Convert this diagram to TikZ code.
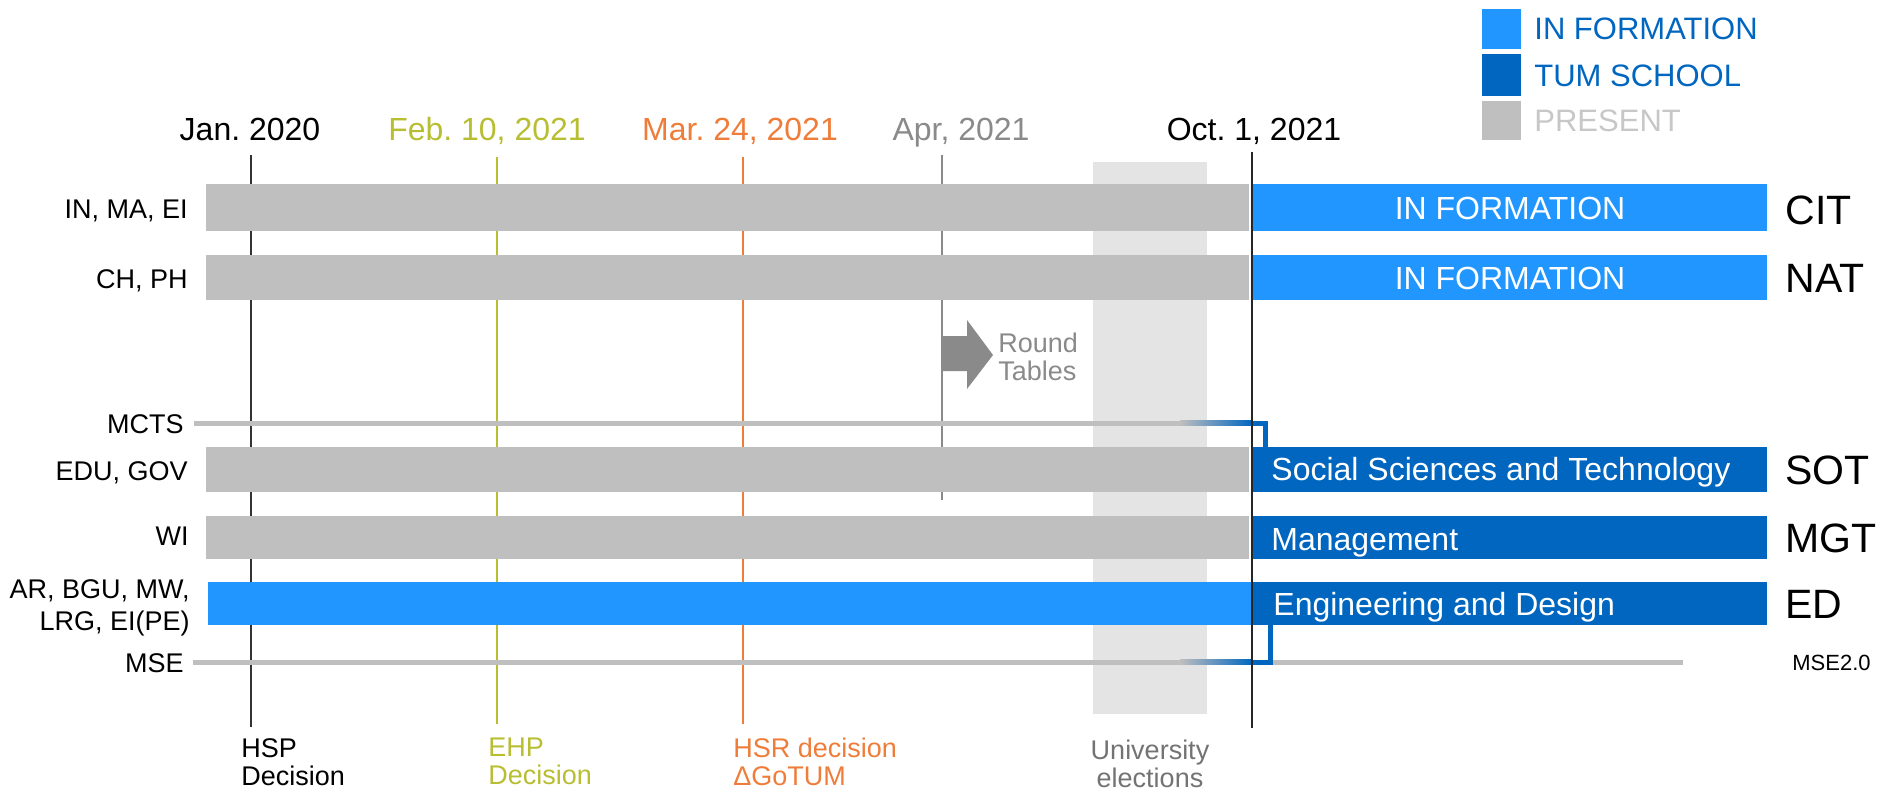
\documentclass[tikz,border=0pt]{standalone}
\usepackage{fontspec}
\setmainfont{Liberation Sans}
\frenchspacing
\definecolor{formblue}{RGB}{33,150,255}
\definecolor{schoolblue}{RGB}{0,102,191}
\definecolor{presgray}{RGB}{191,191,191}
\definecolor{bandgray}{RGB}{228,228,228}
\definecolor{febgreen}{RGB}{184,190,50}
\definecolor{marorange}{RGB}{239,125,58}
\definecolor{aprgray}{RGB}{138,138,138}

\begin{document}
\begin{tikzpicture}[x=0.5pt, y=-0.5pt,
	txt/.style={inner sep=0pt, font=\fontsize{13.5}{14}\selectfont},
	datelbl/.style={inner sep=0pt, anchor=base, font=\fontsize{16}{18}\selectfont},
	schoollbl/.style={inner sep=0pt, anchor=base west, font=\fontsize{20.5}{22}\selectfont},
	bartxt/.style={inner sep=0pt, text=white, font=\fontsize{16}{18}\selectfont},
	legendtxt/.style={inner sep=0pt, anchor=base west, font=\fontsize{15.5}{17}\selectfont},
	timeline/.style={line width=1pt},
	track/.style={line width=2.5pt, presgray},
	link/.style={line width=2.5pt, schoolblue, line join=miter}]
	\useasboundingbox (0,0) rectangle (1887,799);
	\fill[bandgray] (1093,162) rectangle (1207,714);
	\draw[timeline, black!80] (251,155) -- (251,727);
	\draw[timeline, febgreen] (497,157) -- (497,724);
	\draw[timeline, marorange] (743,157) -- (743,724);
	\draw[timeline, aprgray] (942,155) -- (942,500);
	\foreach \ya/\yb/\col in {184/231/formblue, 255/300/formblue, 447/492/schoolblue, 516/559/schoolblue} {
		\fill[presgray] (206,\ya) rectangle (1249,\yb);
		\fill[\col] (1253,\ya) rectangle (1767,\yb);
	}
	\fill[formblue] (208,582) rectangle (1253,625);
	\fill[schoolblue] (1253,582) rectangle (1767,625);
	\draw[track] (194,423) -- (1250,423);
	\draw[track] (193,662) -- (1683,662);
	\shade[left color=presgray, right color=schoolblue] (1180,420.5) rectangle (1252,425.5);
	\shade[left color=presgray, right color=schoolblue] (1180,659.5) rectangle (1252,664.5);
	\coordinate (mcts fade) at (1250,423);
	\coordinate (sot top) at (1265,448);
	\coordinate (mse fade) at (1250,662);
	\coordinate (ed bottom) at (1270,624);
	\draw[link] (mcts fade) -| (sot top);
	\draw[link] (mse fade) -| (ed bottom);
	\draw[timeline, black!85] (1252,152) -- (1252,728);
	\fill[aprgray] (943,336) -- (967,336) -- (967,320) -- (993,355) -- (967,389) -- (967,371) -- (943,371) -- cycle;
	\node[txt, anchor=north west, align=left, text=aprgray] (round) at (998,333) {Round\\Tables};

	\node[datelbl] (jan) at (250,140) {Jan. 2020};
	\node[datelbl, text=febgreen] (feb) at (487,140) {Feb. 10, 2021};
	\node[datelbl, text=marorange] (mar) at (740,140) {Mar. 24, 2021};
	\node[datelbl, text=aprgray] (apr) at (961,140) {Apr, 2021};
	\node[datelbl] (oct) at (1254,140) {Oct. 1, 2021};

	\node[txt, anchor=base east] (inmaei) at (188,218) {IN, MA, EI};
	\node[txt, anchor=base east] (chph) at (188,288) {CH, PH};
	\node[txt, anchor=base east] (mcts) at (184,433) {MCTS};
	\node[txt, anchor=base east] (edugov) at (188,480) {EDU, GOV};
	\node[txt, anchor=base east] (wi) at (189,545) {WI};
	\node[txt, anchor=base east] (arbgu) at (190,598) {AR, BGU, MW,};
	\node[txt, anchor=base east] (lrg) at (190,630) {LRG, EI(PE)};
	\node[txt, anchor=base east] (mse) at (184,672) {MSE};

	\node[bartxt, anchor=base] (citform) at (1510,219) {IN FORMATION};
	\node[bartxt, anchor=base] (natform) at (1510,289) {IN FORMATION};
	\node[bartxt, anchor=base west] (sottxt) at (1271,480) {Social Sciences and Technology};
	\node[bartxt, anchor=base west] (mgttxt) at (1271,550) {Management};
	\node[bartxt, anchor=base west] (edtxt) at (1273,615) {Engineering and Design};

	\node[schoollbl] (cit) at (1785,224) {CIT};
	\node[schoollbl] (nat) at (1785,292) {NAT};
	\node[schoollbl] (sot) at (1785,484) {SOT};
	\node[schoollbl] (mgt) at (1785,552) {MGT};
	\node[schoollbl] (ed) at (1785,618) {ED};
	\node[inner sep=0pt, anchor=base west, font=\fontsize{11}{12}\selectfont] (mse2) at (1792,670) {MSE2.0};

	\node[txt, anchor=north west, align=left] (hsp) at (241,738) {HSP\\Decision};
	\node[txt, anchor=north west, align=left, text=febgreen] (ehp) at (488,738) {EHP\\Decision};
	\node[txt, anchor=north west, align=left, text=marorange] (hsr) at (733,738) {HSR decision\\ΔGoTUM};
	\node[txt, anchor=north, align=center, text=black!55] (elect) at (1150,740) {University\\elections};

	\fill[formblue] (1482,9) rectangle (1521,49);
	\fill[schoolblue] (1482,54) rectangle (1521,96);
	\fill[presgray] (1482,101) rectangle (1521,140);
	\node[legendtxt, text=schoolblue] (leg form) at (1534,39) {IN FORMATION};
	\node[legendtxt, text=schoolblue] (leg school) at (1534,86) {TUM SCHOOL};
	\node[legendtxt, text=black!22] (leg present) at (1534,131) {PRESENT};
\end{tikzpicture}
\end{document}
